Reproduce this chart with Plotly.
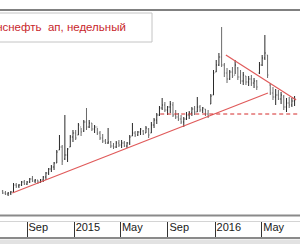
import datetime as dt
import plotly.graph_objects as go

# ---- data (weekly bars, price units) ----
start = dt.date(2014, 6, 30)
high = [75, 74, 73, 74, 82, 82, 81, 84, 85, 84, 87, 89, 86, 85, 86, 89, 93, 97, 100, 103,
        115, 130, 120, 150, 117, 130, 135, 135, 142, 137, 145, 157, 145, 142, 140, 137, 134, 131, 126, 137,
        124, 122, 124, 125, 125, 124, 123, 130, 142, 134, 134, 137, 135, 139, 137, 143, 147, 152, 159, 167,
        163, 159, 164, 163, 155, 152, 150, 148, 153, 154, 158, 159, 168, 160, 158, 156, 155, 171, 195, 205,
        212, 238, 202, 197, 195, 198, 205, 198, 195, 193, 189, 189, 190, 187, 185, 203, 210, 230, 210, 182,
        178, 176, 175, 173, 170, 167, 168, 167, 169]
low = [71, 70, 69, 70, 72, 77, 77, 79, 80, 80, 82, 83, 82, 81, 82, 83, 85, 90, 93, 95,
       102, 115, 100, 105, 103, 118, 123, 125, 130, 129, 133, 135, 137, 134, 132, 130, 125, 122, 121, 121,
       117, 116, 117, 118, 117, 118, 117, 120, 129, 128, 129, 130, 130, 132, 127, 132, 137, 141, 149, 155,
       153, 150, 152, 148, 146, 144, 141, 138, 145, 146, 149, 150, 153, 153, 152, 149, 147, 161, 170, 193,
       199, 198, 188, 182, 185, 187, 191, 185, 181, 180, 180, 179, 179, 177, 175, 191, 199, 205, 187, 170,
       165, 160, 165, 161, 155, 153, 157, 158, 159]
open_ = [74, 72, 71, 72, 73, 80, 79, 80, 83, 81, 83, 86, 84, 85, 83, 85, 88, 92, 96, 98,
         102, 115, 118, 106, 110, 118, 128, 132, 130, 138, 134, 143, 138, 142, 136, 138, 132, 127, 124, 122,
         123, 119, 118, 122, 120, 122, 119, 122, 129, 132, 130, 133, 134, 132, 136, 132, 140, 145, 150, 157,
         160, 155, 158, 160, 150, 148, 146, 143, 146, 150, 152, 156, 153, 158, 155, 156, 151, 161, 170, 193,
         200, 208, 200, 192, 186, 193, 190, 197, 188, 184, 189, 183, 186, 182, 184, 192, 200, 207, 210, 180,
         172, 168, 170, 166, 168, 158, 162, 160, 164]
close = [72, 71, 72, 73, 80, 79, 80, 83, 81, 83, 86, 84, 85, 83, 85, 88, 92, 96, 98, 102,
         113, 118, 104, 110, 116, 128, 132, 127, 140, 133, 143, 138, 142, 136, 138, 132, 127, 124, 122, 123,
         119, 118, 122, 120, 122, 119, 122, 128, 132, 130, 133, 136, 131, 137, 130, 140, 145, 150, 157, 160,
         155, 158, 161, 150, 148, 146, 143, 146, 150, 152, 156, 153, 158, 155, 157, 151, 149, 169, 192, 200,
         208, 200, 192, 186, 193, 189, 200, 188, 184, 190, 183, 186, 182, 184, 178, 200, 207, 212, 190, 172,
         168, 170, 166, 170, 158, 162, 160, 164, 166]
dates = [start + dt.timedelta(weeks=i) for i in range(len(high))]

support_dates = ["2014-07-25", "2016-05-17"]
support_vals = [72, 172]
resist_dates = ["2016-01-29", "2016-07-29"]
resist_vals = [210, 165]
level_dates = ["2015-08-12", "2016-08-08"]
level_vals = [151, 151]

tick_dates = ["2014-09-01", "2015-01-01", "2015-05-01", "2015-09-01", "2016-01-01", "2016-05-01"]
tick_text = ["Sep", "2015", "May", "Sep", "2016", "May"]
title_text = "Транснефть\u00a0 ап, недельный"

# ---- figure ----
fig = go.Figure()
fig.add_trace(go.Ohlc(
    x=dates, open=open_, high=high, low=low, close=close,
    increasing=dict(line=dict(color="#2a2a2a", width=1)),
    decreasing=dict(line=dict(color="#6a6a6a", width=1)),
    tickwidth=0.3, hoverinfo="skip", showlegend=False))
fig.add_trace(go.Scatter(x=support_dates, y=support_vals, mode="lines",
                         line=dict(color="#e05a5a", width=1.2), showlegend=False, hoverinfo="skip"))
fig.add_trace(go.Scatter(x=resist_dates, y=resist_vals, mode="lines",
                         line=dict(color="#e05a5a", width=1.2), showlegend=False, hoverinfo="skip"))
fig.add_trace(go.Scatter(x=level_dates, y=level_vals, mode="lines",
                         line=dict(color="#d42a2a", width=1, dash="4px,3px"), showlegend=False, hoverinfo="skip"))

H = 227.0
def py(Y):
    return (237 - Y) / H

shapes = [
    dict(type="line", xref="paper", yref="paper", x0=0, x1=1, y0=1, y1=1,
         line=dict(color="#808080", width=2)),
    dict(type="rect", xref="paper", yref="paper", x0=-0.05, x1=152 / 300, y0=py(42), y1=py(13),
         fillcolor="white", line=dict(color="#c4c4c4", width=1)),
    dict(type="line", xref="paper", yref="paper", x0=0, x1=1, y0=py(215.5), y1=py(215.5),
         line=dict(color="#8a8a8a", width=2)),
    dict(type="line", xref="paper", yref="paper", x0=0, x1=1, y0=py(221.5), y1=py(221.5),
         line=dict(color="#d4d4d4", width=1)),
    dict(type="rect", xref="paper", yref="paper", x0=0, x1=1, y0=py(244), y1=py(239.5),
         fillcolor="#e2e2e2", line=dict(width=0)),
]

fig.update_layout(
    width=300, height=250,
    margin=dict(l=0, r=0, t=10, b=13),
    paper_bgcolor="white", plot_bgcolor="white",
    shapes=shapes,
    annotations=[dict(text=title_text, xref="paper", yref="paper", x=-25 / 300, y=py(26.5),
                      xanchor="left", yanchor="middle", showarrow=False,
                      font=dict(family="Liberation Sans, Arial", size=11.5, color="#c8262b"))],
    xaxis=dict(range=["2014-06-23", "2016-08-08"], rangeslider=dict(visible=False),
               tickmode="array", tickvals=tick_dates, ticktext=tick_text,
               ticks="inside", ticklen=15, tickcolor="#333333", tickwidth=1,
               ticklabelposition="inside right",
               tickfont=dict(family="Liberation Sans, Arial", size=11, color="#1a1a1a"),
               showline=True, linecolor="#8a8a8a", linewidth=2, mirror=False,
               showgrid=False, zeroline=False, fixedrange=True),
    yaxis=dict(range=[28, 255], visible=False, fixedrange=True),
)

fig.write_html("out.html", config={"displayModeBar": False})
